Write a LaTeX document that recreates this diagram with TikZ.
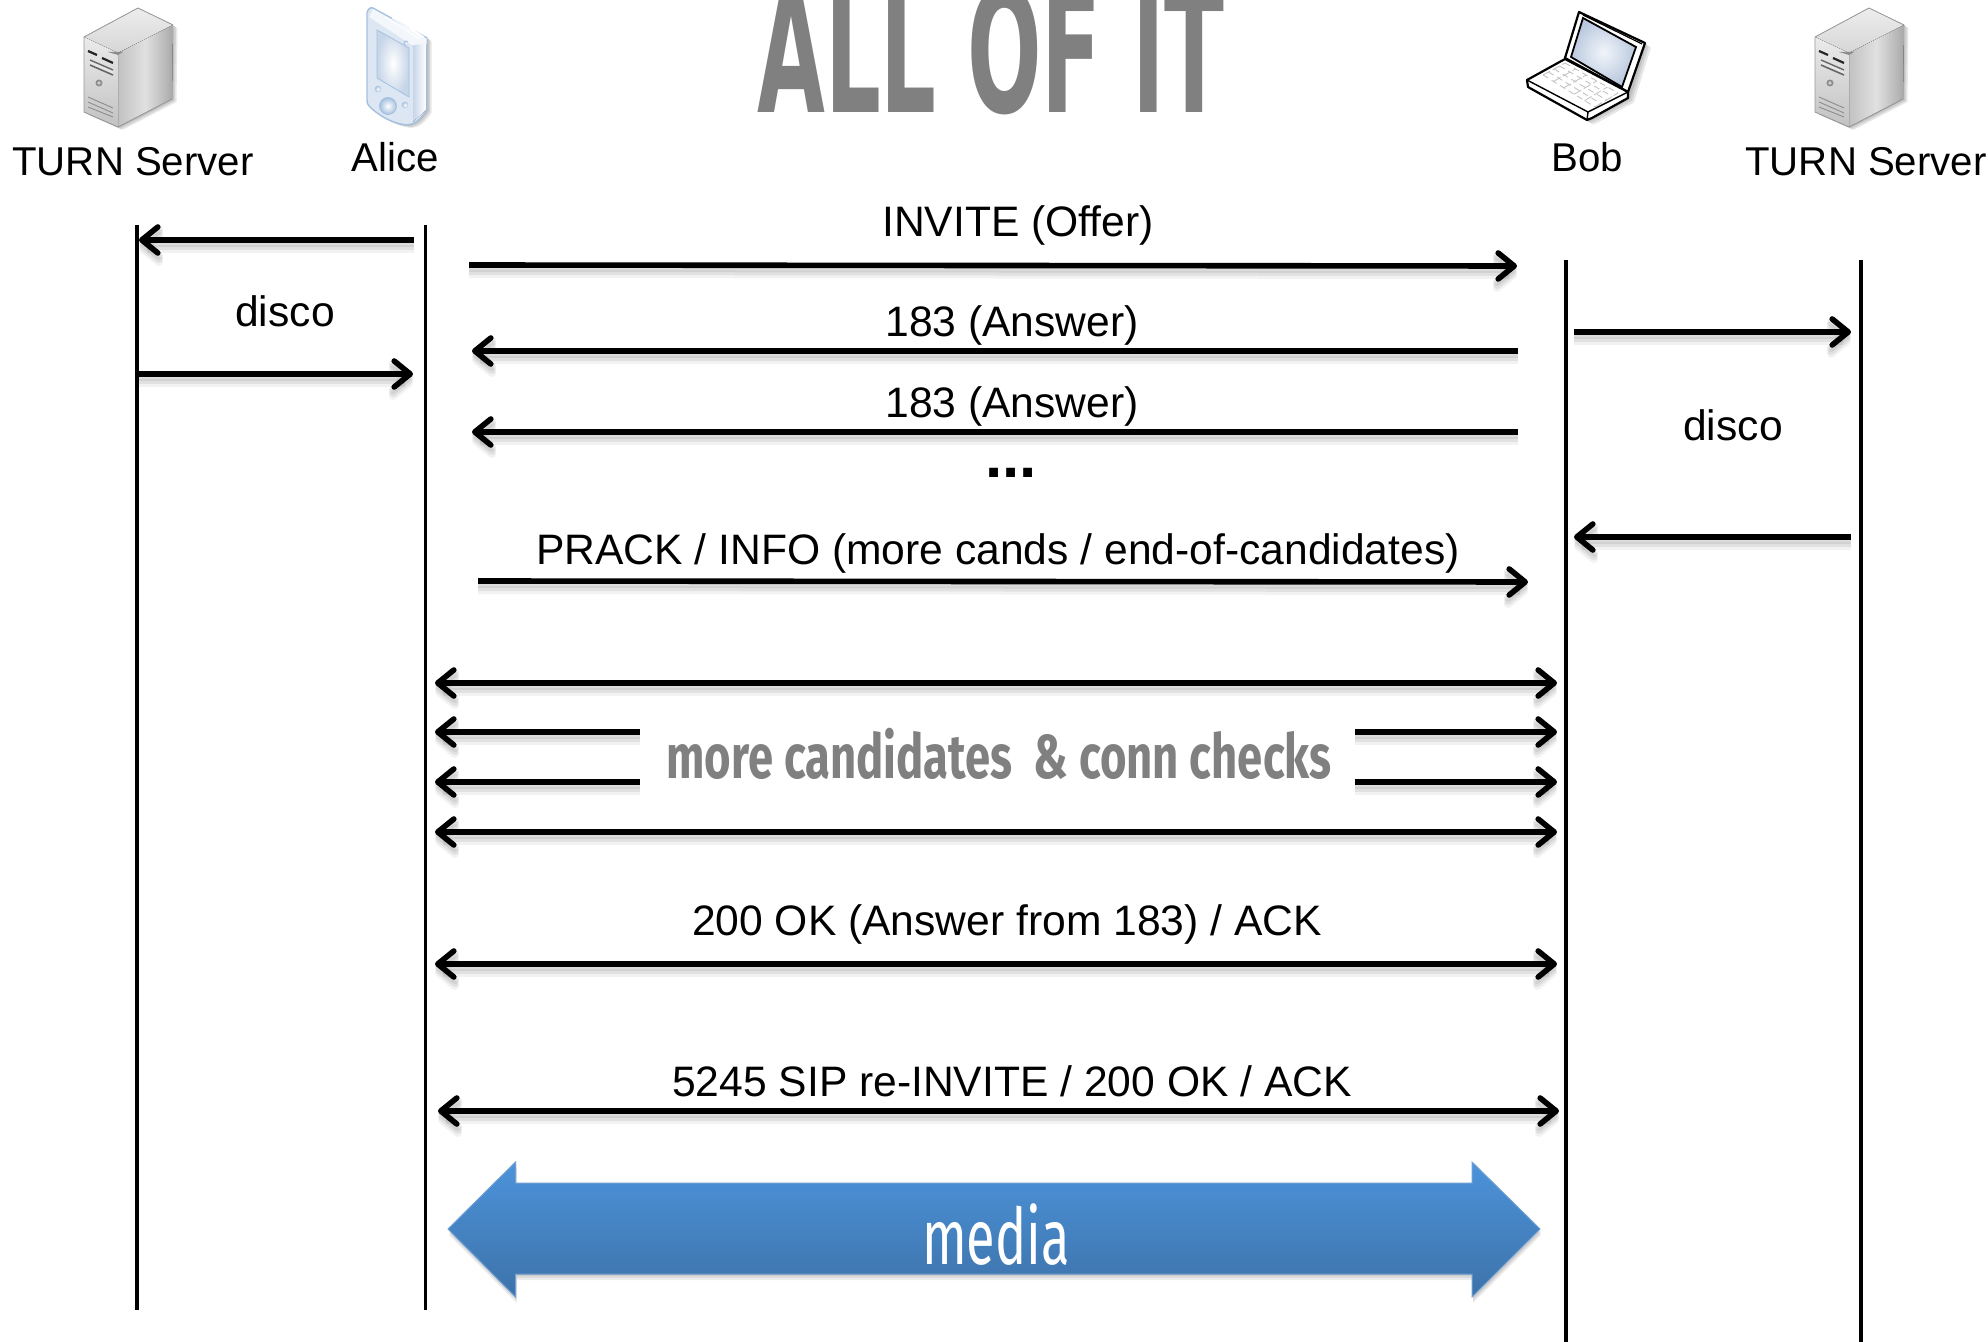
\documentclass[tikz,border=0pt]{standalone}
\usepackage{fontspec}
\setmainfont{Liberation Sans}
\newfontfamily\titlefont[FakeStretch=0.51]{DejaVu Sans}
\newfontfamily\midfont[FakeStretch=0.733]{Fira Sans}
\newfontfamily\medfont[FakeStretch=0.67]{Fira Sans}
\usetikzlibrary{arrows.meta,calc}
\definecolor{titlegray}{HTML}{808080}
\definecolor{medtop}{HTML}{4C93DA}
\definecolor{medbot}{HTML}{3D72A9}
\definecolor{medline}{HTML}{6FA0D4}
\definecolor{pdabody}{HTML}{DCE7F3}
\definecolor{pdaedge}{HTML}{A5C0DE}
\definecolor{pdapale}{HTML}{F3F7FB}
\definecolor{pdamid}{HTML}{C6D5E8}
\definecolor{scrmid}{HTML}{F1F5FA}
\definecolor{scredge}{HTML}{B9C8DE}
\tikzset{
  lbl/.style={anchor=base,inner sep=0pt,font=\fontsize{21.3}{25}\selectfont,text=black},
  hdr/.style={anchor=base,inner sep=0pt,font=\fontsize{20.1}{24}\selectfont,text=black},
  life/.style={draw=black,line width=1.7pt},
  msg/.style={draw=black,line width=2.8pt,line cap=butt,
    preaction={draw=black,opacity=.07,line width=4pt,transform canvas={yshift=-1.5pt}},
    preaction={draw=black,opacity=.07,line width=4pt,transform canvas={yshift=-3pt}},
    preaction={draw=black,opacity=.05,line width=4pt,transform canvas={yshift=-4.5pt}}},
  fwd/.style={msg,-{Straight Barb[round,length=8pt,width=13pt]}},
  both/.style={msg,{Straight Barb[round,length=8pt,width=13pt]}-{Straight Barb[round,length=8pt,width=13pt]}}
}
\newcommand{\servericon}{%
  \foreach \s/\t in {1.5/1,3/2,4.5/3}{
    \fill[black,opacity=.09,shift={(\s,\t)}] (138,8)--(173,25)--(172,99)--(118,127)--(84,112)--(84,37)--cycle;}
  \fill[top color=white!93!black,bottom color=white!84!black] (138,8)--(173,25)--(118,53)--(84,37)--cycle;
  \fill[left color=white!76!black,right color=white!66!black,middle color=white!88!black] (118,53)--(173,25)--(172,99)--(118,127)--cycle;
  \fill[top color=white!92!black,bottom color=white!76!black] (84,37)--(118,53)--(118,127)--(84,112)--cycle;
  \draw[white!60!black,line width=.4pt] (138,8)--(173,25) (138,8)--(84,37)--(84,112)--(118,127)--(172,99);
  \fill[white!55!black] (108,52)--(123,52)--(118,55)--cycle;
  \draw[black!85,line width=1.1pt] (88,51)--(97,55) (102,58)--(113,63);
  \fill[white!90!black] (90,60)--(113,70)--(113,75)--(90,65)--cycle;
  \draw[black!60,line width=.7pt] (90,60)--(113,70);
  \draw[black!60,line width=.8pt] (90,65)--(113,75);
  \fill[white!55!black] (99,83) circle (3.5);
  \fill[white!80!black] (99,83) circle (1.8);
  \draw[white!55!black,line width=.45pt] (88,97)--(113,108) (88,102)--(113,113) (88,107)--(113,117);
}
\begin{document}
\begin{tikzpicture}[x=0.5pt,y=-0.5pt]
\useasboundingbox (0,0) rectangle (1988,1342);
\clip (0,0) rectangle (1988,1342);
% icons
\servericon
\begin{scope}[shift={(1731,0)}]\servericon\end{scope}
% Alice's handheld
\foreach \s/\t in {1.5/1,3/2,4.5/3}{
  \fill[black,opacity=.09,shift={(\s,\t)}] (367,13) .. controls (368,9) and (370,7) .. (373,8) -- (427,38) -- (427,110) .. controls (420,120) and (415,124) .. (408,125) .. controls (390,124) and (375,112) .. (370,107) .. controls (367,104) and (367,102) .. (367,100) -- cycle;}
\fill[pdabody,draw=pdaedge,line width=.7pt]
  (367,13) .. controls (368,9) and (370,7) .. (373,8) -- (427,38) -- (427,110) .. controls (420,120) and (415,124) .. (408,125) .. controls (390,124) and (375,112) .. (370,107) .. controls (367,104) and (367,102) .. (367,100) -- cycle;
\fill[left color=pdamid,right color=white] (413,44) -- (426,40) -- (426,110) -- (413,122) -- cycle;
\fill[pdapale] (373,9) -- (426.5,38.5) -- (426.5,44) -- (412,45) -- (369,17) -- cycle;
\draw[white,line width=.5pt] (385,17)--(420,39) (392,18)--(422,37) (400,21)--(424,37);
\shade[inner color=white,outer color=pdamid,draw=pdaedge,line width=.4pt] (377,30) -- (409,48) -- (409,97) -- (377,78) -- cycle;
\shade[inner color=white,outer color=pdaedge,draw=pdaedge,line width=.4pt] (388,106) circle (8.5);
\shade[inner color=white,outer color=pdaedge] (378,89) circle (3.3);
\shade[inner color=white,outer color=pdaedge] (405,105) circle (3.3);
\shade[inner color=white,outer color=pdaedge] (406,43) circle (2.5);
% Bob's laptop
\foreach \s/\t in {2/1.5,4/3,6/4.5}{
  \fill[black,opacity=.09,shift={(\s,\t)}] (1579,12)--(1645,43)--(1628,98)--(1592,118)--(1587,120)--(1528,87)--(1527,80)--(1565,59)--cycle;}
\coordinate (ka) at (1543,75);\coordinate (kb) at (1565,63);\coordinate (kc) at (1618,93);\coordinate (kd) at (1595,107);
\fill[white,draw=black,line width=1.1pt,line join=round] (1579,12)--(1645,43)--(1628,92)--(1565,58)--cycle;
\draw[black,line width=.6pt] (1583,15)--(1642,44);
\shade[inner color=scrmid,outer color=scredge,draw=black,line width=.9pt] (1583,18)--(1636,47)--(1622,87)--(1571,57)--cycle;
\fill[white,draw=black,line width=1.1pt,line join=round] (1527,80)--(1528,87)--(1587,120)--(1592,118)--(1628,98)--(1628,92)--(1565,59)--cycle;
\draw[black,line width=.7pt,line join=round] (1527,80)--(1588,112)--(1628,92) (1588,112)--(1587,120);
\foreach \t in {0,.2,.4,.6,.8,1}{
  \draw[white!75!black,line width=.4pt,dash pattern=on 4pt off 1.5pt] ($(ka)!\t!(kd)$) -- ($(kb)!\t!(kc)$);}
\foreach \t in {0,.25,.5,.75,1}{
  \draw[white!75!black,line width=.4pt,dash pattern=on 3pt off 2pt] ($(ka)!\t!(kb)$) -- ($(kd)!\t!(kc)$);}
% title
\node[anchor=base,inner sep=0pt,text=titlegray,font=\titlefont\bfseries\fontsize{86}{100}\selectfont] (title) at (991,113) {ALL OF IT};
% headers
\node[hdr] (turnl) at (133,176) {TURN Server};
\node[hdr] (alice) at (395,172) {Alice};
\node[hdr] (bob) at (1587,172) {Bob};
\node[hdr] (turnr) at (1866,176) {TURN Server};
% lifelines
\coordinate (l1t) at (137,225);\coordinate (l1b) at (137,1310);
\coordinate (l2t) at (425.5,225);\coordinate (l2b) at (425.5,1310);
\coordinate (l3t) at (1566,260);\coordinate (l3b) at (1566,1345);
\coordinate (l4t) at (1861,260);\coordinate (l4b) at (1861,1345);
\draw[life] (l1t)--(l1b);
\draw[life] (l2t)--(l2b);
\draw[life] (l3t)--(l3b);
\draw[life] (l4t)--(l4b);
% disco left
\coordinate (d1a) at (414,240);\coordinate (d1b) at (139,240);
\coordinate (d2a) at (139,374);\coordinate (d2b) at (413,374);
\draw[fwd] (d1a)--(d1b);
\draw[fwd] (d2a)--(d2b);
\node[lbl] (discol) at (285,327) {disco};
% disco right
\coordinate (d3a) at (1574,332);\coordinate (d3b) at (1851,332);
\coordinate (d4a) at (1851,537);\coordinate (d4b) at (1574,537);
\draw[fwd] (d3a)--(d3b);
\draw[fwd] (d4a)--(d4b);
\node[lbl] (discor) at (1733,441) {disco};
% signalling
\coordinate (ia) at (469,265);\coordinate (ib) at (1517,266);
\draw[fwd] (ia)--(ib);
\node[lbl] (invite) at (1018,237) {INVITE (Offer)};
\coordinate (aa) at (1518,351);\coordinate (ab) at (472,351);
\draw[fwd] (aa)--(ab);
\node[lbl] (ans1) at (1012,337) {183 (Answer)};
\coordinate (ac) at (1518,432);\coordinate (ad) at (472,432);
\draw[fwd] (ac)--(ad);
\node[lbl] (ans2) at (1012,418) {183 (Answer)};
\node[anchor=base,inner sep=0pt,font=\bfseries\fontsize{31}{36}\selectfont] (dots) at (1011,478) {...};
\coordinate (pa) at (478,581);\coordinate (pb) at (1528,582);
\draw[fwd] (pa)--(pb);
\node[lbl] (prack) at (998,565) {PRACK / INFO (more cands / end-of-candidates)};
% connectivity checks
\coordinate (c1a) at (435,683);\coordinate (c1b) at (1557,683);
\draw[both] (c1a)--(c1b);
\coordinate (c2a) at (640,732);\coordinate (c2b) at (435,732);
\coordinate (c2c) at (1355,732);\coordinate (c2d) at (1557,732);
\draw[fwd] (c2a)--(c2b);
\draw[fwd] (c2c)--(c2d);
\coordinate (c3a) at (640,782);\coordinate (c3b) at (435,782);
\coordinate (c3c) at (1355,782);\coordinate (c3d) at (1557,782);
\draw[fwd] (c3a)--(c3b);
\draw[fwd] (c3c)--(c3d);
\coordinate (c4a) at (435,832);\coordinate (c4b) at (1557,832);
\draw[both] (c4a)--(c4b);
\node[anchor=base,inner sep=0pt,text=titlegray,font=\midfont\bfseries\fontsize{31}{36}\selectfont] (checks) at (999,778) {more candidates\ \ \& conn checks};
% answers
\coordinate (oa) at (435,964);\coordinate (ob) at (1557,964);
\draw[both] (oa)--(ob);
\node[lbl] (ok) at (1007,935) {200 OK (Answer from 183) / ACK};
\coordinate (ra) at (438,1111);\coordinate (rb) at (1559,1111);
\draw[both] (ra)--(rb);
\node[lbl] (reinv) at (1012,1096) {5245 SIP re-INVITE / 200 OK / ACK};
% media arrow
\foreach \t in {2,4,6}{
  \fill[black,opacity=.07,shift={(1,\t)}] (448,1229)--(515.6,1162)--(515.6,1183)--(1472,1183)--(1472,1162)--(1540,1229)--(1472,1297)--(1472,1274)--(515.6,1274)--(515.6,1297)--cycle;}
\fill[draw=medline,line width=.5pt,top color=medtop,bottom color=medbot] (448,1229)--(515.6,1162)--(515.6,1183)--(1472,1183)--(1472,1162)--(1540,1229)--(1472,1297)--(1472,1274)--(515.6,1274)--(515.6,1297)--cycle;
\node[anchor=base,inner sep=0pt,text=white,font=\medfont\fontsize{39}{46}\selectfont] (media) at (996,1264) {media};
\end{tikzpicture}
\end{document}
